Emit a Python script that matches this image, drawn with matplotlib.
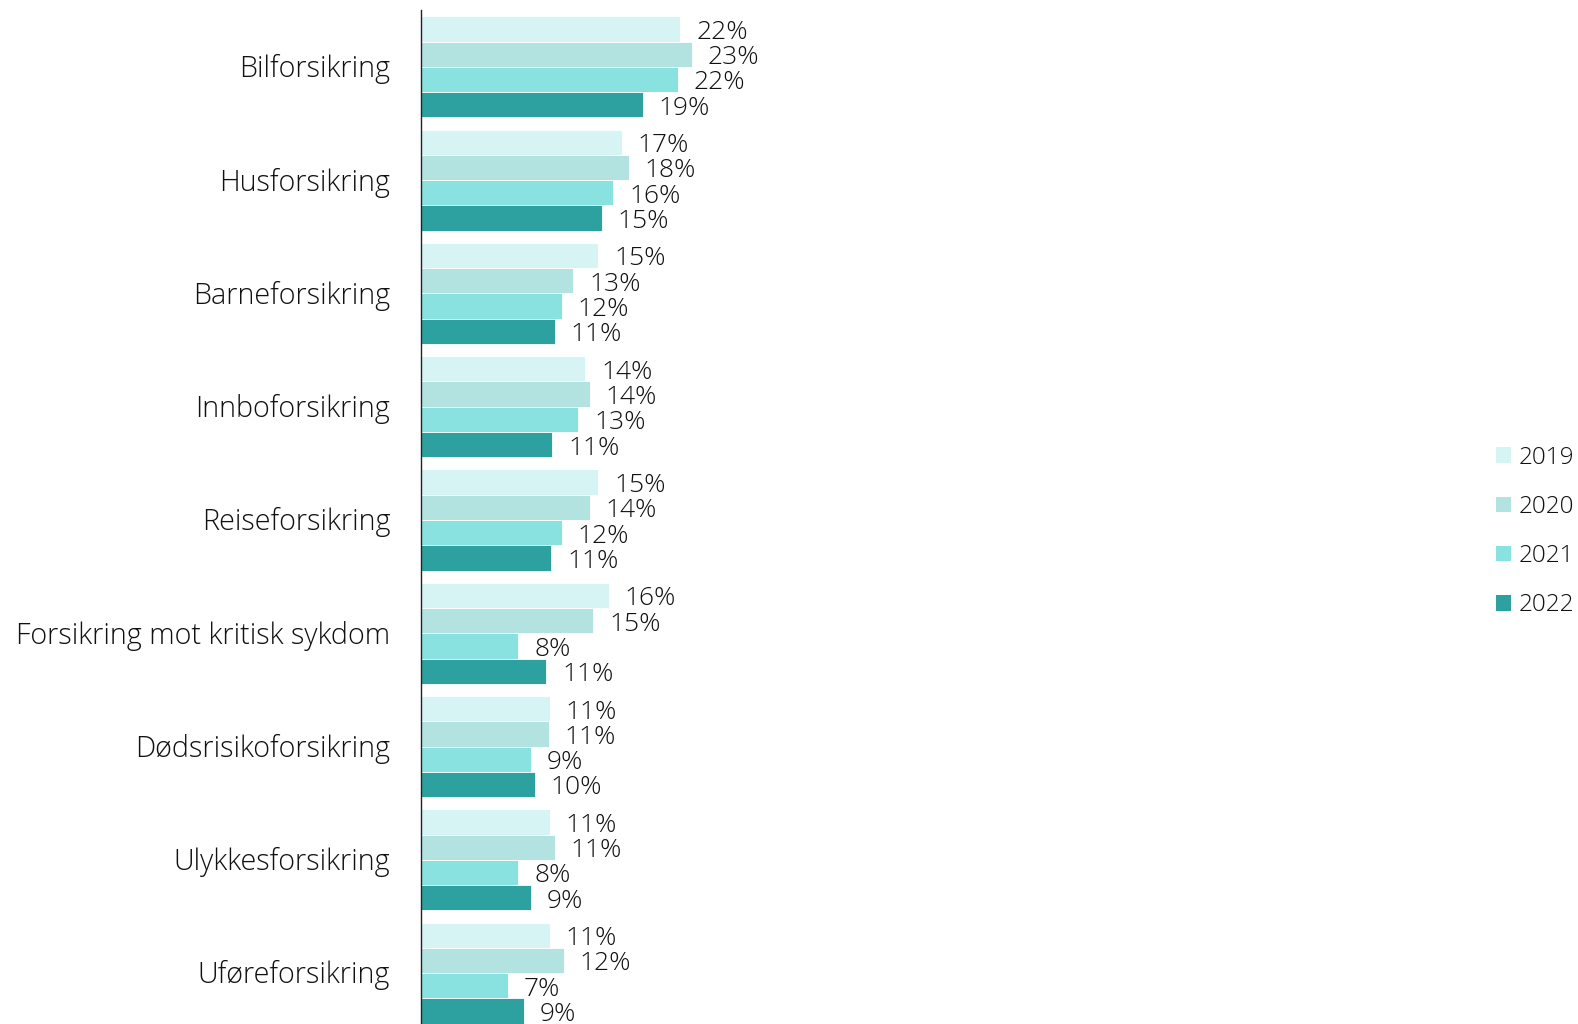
import matplotlib
matplotlib.use("Agg")
import matplotlib.pyplot as plt
import numpy as np
from matplotlib.patches import Patch

categories = ["Bilforsikring", "Husforsikring", "Barneforsikring", "Innboforsikring",
              "Reiseforsikring", "Forsikring mot kritisk sykdom", "Dødsrisikoforsikring",
              "Ulykkesforsikring", "Uføreforsikring"]
years = ["2019", "2020", "2021", "2022"]
v2019 = [22.1, 17.1, 15.1, 14.0, 15.1, 16.0, 11.0, 11.0, 11.0]
v2020 = [23.1, 17.7, 13.0, 14.4, 14.4, 14.7, 10.9, 11.4, 12.2]
v2021 = [21.9, 16.4, 12.0, 13.4, 12.0, 8.3, 9.4, 8.3, 7.4]
v2022 = [18.9, 15.4, 11.4, 11.2, 11.1, 10.7, 9.7, 9.4, 8.8]
labels2019 = ["22%", "17%", "15%", "14%", "15%", "16%", "11%", "11%", "11%"]
labels2020 = ["23%", "18%", "13%", "14%", "14%", "15%", "11%", "11%", "12%"]
labels2021 = ["22%", "16%", "12%", "13%", "12%", "8%", "9%", "8%", "7%"]
labels2022 = ["19%", "15%", "11%", "11%", "11%", "11%", "10%", "9%", "9%"]

series = [v2019, v2020, v2021, v2022]
series_labels = [labels2019, labels2020, labels2021, labels2022]
colors = ["#D7F4F4", "#B2E3E0", "#89E2DF", "#2CA19F"]

plt.rcParams['font.family'] = ['Open Sans', 'DejaVu Sans']
FS_CAT = 20.7
FS_VAL = 19
FS_LEG = 17.5
TXT = "#111111"

W, H = 1578, 1024
fig = plt.figure(figsize=(W / 100, H / 100), dpi=100)
ax = fig.add_axes([420.7 / W, 0.0, 1040 / W, 1 - 10 / H])

y = np.arange(len(categories))
bh = 0.223
for k, (vals, labs) in enumerate(zip(series, series_labels)):
    pos = y - 1.5 * bh + k * bh
    ax.barh(pos, vals, height=bh, color=colors[k], edgecolor="white",
            linewidth=0.6, label=years[k])
    for p, v, lab in zip(pos, vals, labs):
        ax.text(v + 1.35, p + 0.03, lab, va="center", ha="left", fontsize=FS_VAL,
                color=TXT, fontweight="light")

ax.set_ylim(8.45, -0.503)
ax.set_xlim(0, 1040 / 11.75)
ax.set_yticks(y - 0.01)
ax.set_yticklabels(categories, fontsize=FS_CAT, color=TXT, fontweight="light")
ax.tick_params(axis="y", length=0, pad=22)
ax.set_xticks([])
for s in ["top", "right", "bottom"]:
    ax.spines[s].set_visible(False)
ax.spines["left"].set_color("#222222")
ax.spines["left"].set_linewidth(1.0)

handles = [Patch(facecolor=c, edgecolor="none", label=yr) for c, yr in zip(colors, years)]
leg = fig.legend(handles=handles, loc="center left", bbox_to_anchor=(1496 / W, 0.481),
                 frameon=False, fontsize=FS_LEG, handlelength=0.6, handleheight=0.6,
                 handletextpad=0.35, labelspacing=1.04, borderpad=0, borderaxespad=0)
for t in leg.get_texts():
    t.set_color(TXT)
    t.set_fontweight("light")

fig.savefig("out.png", dpi=100)
